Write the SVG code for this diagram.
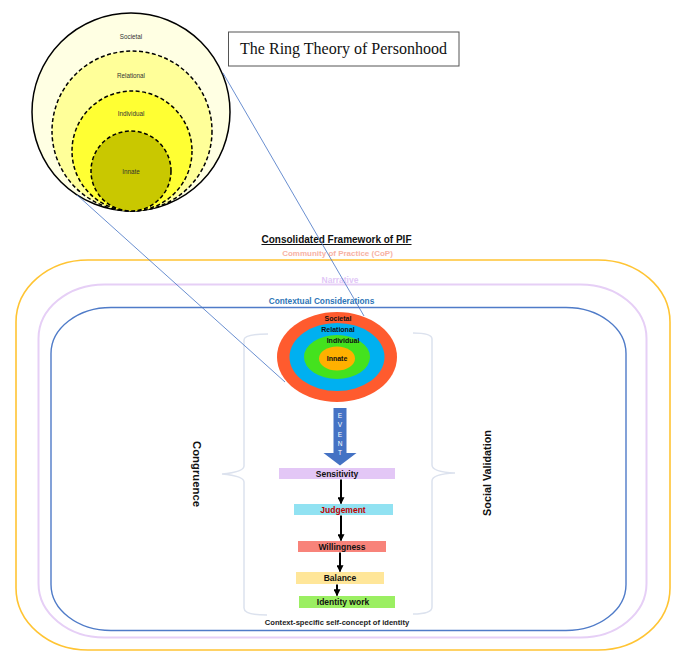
<svg xmlns="http://www.w3.org/2000/svg" width="685" height="668" viewBox="0 0 685 668">
<style>
.sans{font-family:"Liberation Sans",Arial,sans-serif}
.b{font-weight:bold}
.ring{stroke:#000;stroke-width:1.5;stroke-dasharray:4 2.5}
.lbl{font-family:"Liberation Sans",Arial,sans-serif;font-size:6.3px;fill:#333;text-anchor:middle}
.el{font-family:"Liberation Sans",Arial,sans-serif;font-size:7px;font-weight:bold;fill:#111;text-anchor:middle}
.box{font-family:"Liberation Sans",Arial,sans-serif;font-size:8.5px;font-weight:bold;fill:#111;text-anchor:middle}
.zoom{stroke:#4472C4;stroke-width:0.8;fill:none}
.arr{stroke:#000;stroke-width:2;fill:none;marker-end:url(#ah)}
.brace{fill:none;stroke:#DCE2EE;stroke-width:1.5}
.ev{font-family:"Liberation Sans",Arial,sans-serif;font-size:6.5px;fill:#fff;text-anchor:middle}
</style>
<defs>
<marker id="ah" viewBox="0 0 10 10" refX="9" refY="5" markerWidth="3.5" markerHeight="3.5" orient="auto" markerUnits="strokeWidth">
<path d="M0,0 L10,5 L0,10 z" fill="#000"/>
</marker>
</defs>
<rect width="685" height="668" fill="#fff"/>

<g id="ring-theory">
<circle cx="131" cy="112" r="99" fill="#FFFFE3" stroke="#000" stroke-width="1.5"/>
<circle cx="132" cy="131" r="80" fill="#FFFF99" class="ring"/>
<circle cx="132" cy="151" r="60" fill="#FFFF33" class="ring"/>
<circle cx="131" cy="171" r="40" fill="#C9C800" class="ring"/>
<text class="lbl" x="131" y="39">Societal</text>
<text class="lbl" x="131" y="78">Relational</text>
<text class="lbl" x="131" y="116">Individual</text>
<text class="lbl" x="131" y="174">Innate</text>
</g>

<g id="title-box">
<rect x="228.5" y="32" width="230.5" height="34" fill="#fff" stroke="#555" stroke-width="1"/>
<text x="343.5" y="53.5" text-anchor="middle" font-family="'Liberation Serif','Times New Roman',serif" font-size="16" fill="#111">The Ring Theory of Personhood</text>
</g>

<g id="cop">
<rect x="16" y="260" width="654" height="390" rx="72" ry="62" fill="none" stroke="#FFC433" stroke-width="1.6"/>
<text x="337.5" y="256" class="sans b" font-size="8" fill="#F7B2A4" text-anchor="middle">Community of Practice (CoP)</text>
</g>
<g id="narrative">
<rect x="38.5" y="284.5" width="608" height="353" rx="66" ry="54" fill="none" stroke="#E6CFF6" stroke-width="2"/>
<text x="340" y="283" class="sans b" font-size="8.5" fill="#E2C8F7" text-anchor="middle">Narrative</text>
</g>
<g id="contextual">
<rect x="51" y="307.5" width="575" height="323" rx="60" ry="46" fill="none" stroke="#4F7BC8" stroke-width="1.4"/>
<text x="321.5" y="304" class="sans b" font-size="8.3" fill="#2E75B6" text-anchor="middle">Contextual Considerations</text>
</g>

<g id="framework-title">
<text x="336.5" y="243" class="sans b" font-size="10" fill="#111" text-anchor="middle" text-decoration="underline">Consolidated Framework of PIF</text>
</g>

<g id="braces">
<path class="brace" d="M268,334 Q244,334 244,340 L244,466 Q244,472 222,474 Q244,476 244,482 L244,608 Q244,615 267,615"/>
<path class="brace" d="M413,333 Q432,333 432,339 L432,465 Q432,472 455,473 Q432,474 432,481 L432,607 Q432,614 413,614"/>
</g>

<g id="congruence">
<text transform="translate(193,474) rotate(90)" class="sans b" font-size="11.3" fill="#111" text-anchor="middle">Congruence</text>
</g>
<g id="social-validation">
<text transform="translate(491,473) rotate(-90)" class="sans b" font-size="10.8" fill="#111" text-anchor="middle">Social Validation</text>
</g>

<g id="pif-rings">
<ellipse cx="337" cy="357" rx="60" ry="45" fill="#FF5B2E"/>
<ellipse cx="337" cy="357" rx="47.5" ry="34" fill="#00B0F0"/>
<ellipse cx="337" cy="357" rx="33" ry="22" fill="#44E21E"/>
<ellipse cx="337" cy="358.5" rx="18" ry="12" fill="#FFB000"/>
<text class="el" x="338" y="320.5">Societal</text>
<text class="el" x="338" y="331.5">Relational</text>
<text class="el" x="343" y="343">Individual</text>
<text class="el" x="337" y="360.5">Innate</text>
</g>

<g id="event">
<path d="M333.5,408 H346.5 V453 H356.5 L340,465.5 L323.5,453 H333.5 Z" fill="#4472C4"/>
<text class="ev" x="340" y="417.5">E</text>
<text class="ev" x="340" y="427">V</text>
<text class="ev" x="340" y="436.5">E</text>
<text class="ev" x="340" y="445.5">N</text>
<text class="ev" x="340" y="454.5">T</text>
</g>

<g id="sensitivity">
<rect x="279" y="468" width="116" height="11" fill="#E3C7F6"/>
<text class="box" x="337" y="476.5">Sensitivity</text>
</g>
<g id="judgement">
<rect x="294" y="504" width="99" height="11" fill="#91E2F2"/>
<text class="box" x="343" y="512.5" style="fill:#C00000">Judgement</text>
</g>
<g id="willingness">
<rect x="298" y="541" width="88" height="11" fill="#F8837A"/>
<text class="box" x="342" y="549.5">Willingness</text>
</g>
<g id="balance">
<rect x="296" y="572" width="88" height="12" fill="#FFE699"/>
<text class="box" x="340" y="581">Balance</text>
</g>
<g id="identity-work">
<rect x="299" y="596" width="96" height="12" fill="#9BEF62"/>
<text class="box" x="343" y="605">Identity work</text>
</g>

<g id="context-specific">
<text x="337" y="624.5" class="sans b" font-size="7.6" fill="#222" text-anchor="middle">Context-specific self-concept of identity</text>
</g>

<g id="connectors">
<line class="zoom" x1="223" y1="73" x2="364" y2="316"/>
<line class="zoom" x1="77" y1="195" x2="285" y2="382"/>
<line class="arr" x1="341" y1="479.5" x2="341" y2="503.5"/>
<line class="arr" x1="341" y1="515.5" x2="341" y2="540.5"/>
<line class="arr" x1="340" y1="552.5" x2="340" y2="571.5"/>
<line class="arr" x1="337" y1="584.5" x2="337" y2="595.5"/>
</g>
</svg>
